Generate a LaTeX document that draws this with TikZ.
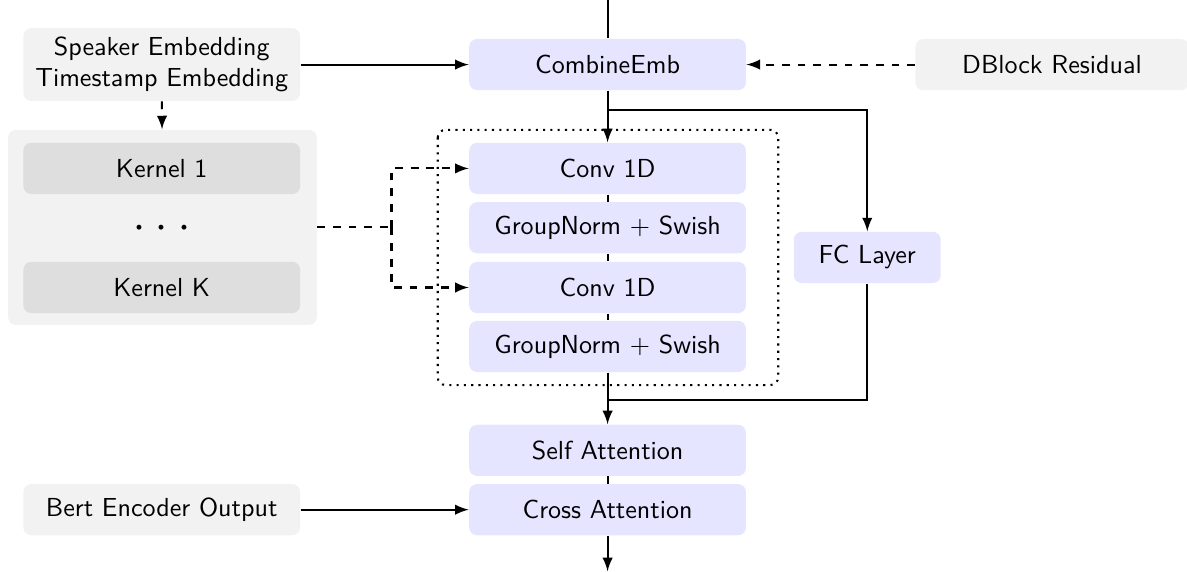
\documentclass[tikz,border=0pt]{standalone}
\usepackage{tikz,amsmath}
\usetikzlibrary{shapes.geometric, arrows}
\tikzstyle{block} = [rectangle, rounded corners=3pt, minimum width=3.73cm, minimum height=0.69cm, text centered, fill=blue!10, font=\sffamily]
\tikzstyle{inbox} = [block, fill=black!5]
\tikzstyle{kernel} = [block, fill=black!13]
\tikzstyle{arrow} = [thick,->,>=latex]
\tikzstyle{dasharrow} = [arrow, dashed]
\tikzstyle{link} = [thick]

\begin{document}
\begin{tikzpicture}
\useasboundingbox (0,0) rectangle (16,-7.7);
% inputs on the left and right
\node[inbox, minimum height=0.96cm, align=center] (emb) at (2.18,-0.87) {Speaker Embedding\\Timestamp Embedding};
\node[inbox, minimum width=3.68cm] (res) at (14.18,-0.87) {DBlock Residual};
\node[inbox] (bert) at (2.18,-6.87) {Bert Encoder Output};
\node[rectangle, rounded corners=3pt, fill=black!5, minimum width=4.16cm, minimum height=2.63cm] (kgroup) at (2.19,-3.065) {};
\node[kernel] (k1) at (2.18,-2.27) {Kernel 1};
\node (kdots) at (2.18,-3.07) {\large$\boldsymbol{\cdot}$\hspace{4.8pt}$\boldsymbol{\cdot}$\hspace{4.8pt}$\boldsymbol{\cdot}$};
\node[kernel] (kK) at (2.18,-3.875) {Kernel K};
% main column
\node[block] (comb) at (8.19,-0.87) {CombineEmb};
\node[block] (conv1) at (8.19,-2.27) {Conv 1D};
\node[block] (norm1) at (8.19,-3.07) {GroupNorm $+$ Swish};
\node[block] (conv2) at (8.19,-3.875) {Conv 1D};
\node[block] (norm2) at (8.19,-4.67) {GroupNorm $+$ Swish};
\node[block] (self) at (8.19,-6.07) {Self Attention};
\node[block] (cross) at (8.19,-6.87) {Cross Attention};
\node[block, minimum width=1.98cm] (fc) at (11.69,-3.47) {FC Layer};
\draw[thick, dotted, rounded corners=3pt] (5.90,-1.75) rectangle (10.49,-5.19);
% connectors
\coordinate (top) at (8.19,0);
\coordinate (bot) at (8.19,-7.7);
\coordinate (split) at (8.19,-1.48);
\coordinate (merge) at (8.19,-5.39);
\draw[link] (top) -- (comb);
\draw[arrow] (emb) -- (comb);
\draw[dasharrow] (res) -- (comb);
\draw[arrow] (comb) -- (conv1);
\draw[arrow] (split) -| (fc);
\draw[link] (conv1) -- (norm1);
\draw[link] (norm1) -- (conv2);
\draw[link] (conv2) -- (norm2);
\draw[arrow] (norm2) -- (self);
\draw[link] (fc) |- (merge);
\draw[link] (self) -- (cross);
\draw[arrow] (cross) -- (bot);
\draw[arrow] (bert) -- (cross);
\draw[dasharrow] (emb) -- (kgroup);
\draw[thick, dashed] (kgroup.east) -- ++(1.0,0) coordinate (fork);
\draw[dasharrow] (fork) |- (conv1);
\draw[dasharrow] (fork) |- (conv2);
\end{tikzpicture}
\end{document}
